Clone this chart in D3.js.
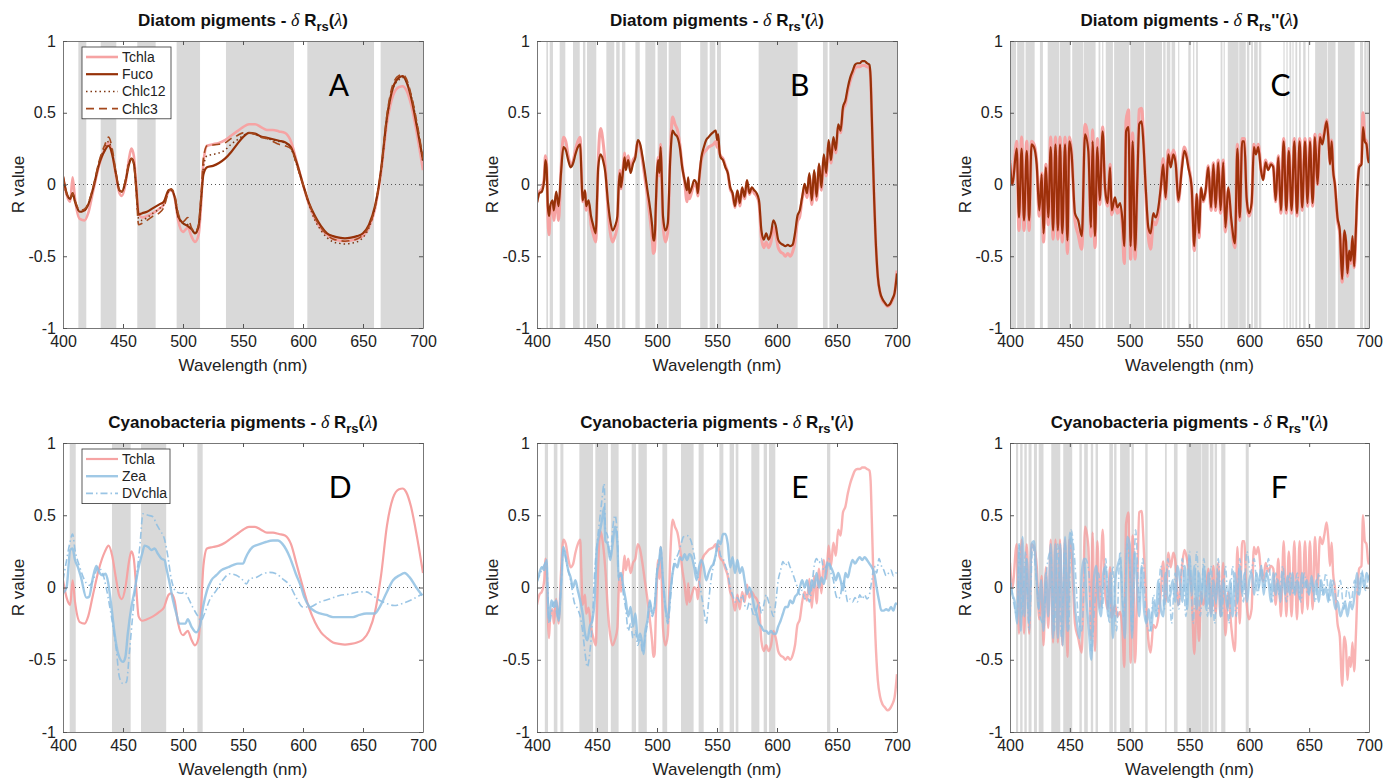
<!DOCTYPE html>
<html><head><meta charset="utf-8">
<script src="https://cdn.jsdelivr.net/npm/d3@7"></script>
<style>body{margin:0;background:#fff;} svg{display:block;font-family:"Liberation Sans",Arial,Helvetica,sans-serif;}</style>
</head><body><svg id="chart" width="1397" height="778"></svg>
<script>
// ---------------- DATA ----------------
const xTicks = [400,450,500,550,600,650,700];
const yTicks = [-1,-0.5,0,0.5,1];
const yTickLabels = ["-1","-0.5","0","0.5","1"];
const panelTitles = ["Diatom pigments","Diatom pigments","Diatom pigments","Cyanobacteria pigments","Cyanobacteria pigments","Cyanobacteria pigments"];
const panelPrimes = ["","'","''","","'","''"];
const panelLetters = ["A","B","C","D","E","F"];
const diatomLegend = ["Tchla","Fuco","Chlc12","Chlc3"];
const cyanoLegend = ["Tchla","Zea","DVchla"];

// Panel A / D (delta Rrs)
const wlA = [400,403,406,408,410,414,418,421,425,430,
435,438,441,444,447,449,452,455,457,459,
461,463,466,470,475,480,484,488,490,493,
496,500,504,507,510,513,515,517,520,525,
530,535,540,545,550,555,560,565,570,575,
580,585,590,595,600,605,610,615,620,625,
630,635,640,645,650,655,660,663,665,670,
675,680,683,686,690,695,700];
const tchlaA = [0.05,-0.07,-0.12,0.05,-0.1,-0.24,-0.25,-0.2,-0.05,0.13,
0.25,0.29,0.22,0.07,-0.06,-0.08,0,0.18,0.25,0.2,
0,-0.2,-0.23,-0.22,-0.2,-0.17,-0.14,-0.05,-0.04,-0.09,
-0.25,-0.33,-0.3,-0.36,-0.4,-0.35,-0.15,0.15,0.27,0.28,
0.29,0.31,0.34,0.37,0.4,0.42,0.42,0.4,0.38,0.38,
0.37,0.36,0.3,0.15,0,-0.14,-0.24,-0.31,-0.35,-0.38,
-0.39,-0.395,-0.39,-0.38,-0.36,-0.3,-0.17,-0.03,0.08,0.43,
0.62,0.68,0.685,0.66,0.56,0.35,0.1];
const fucoA = [0.06,-0.06,-0.1,-0.06,-0.12,-0.19,-0.18,-0.14,-0.03,0.14,
0.24,0.27,0.21,0.08,-0.04,-0.05,0.02,0.14,0.18,0.15,
-0.02,-0.21,-0.2,-0.19,-0.165,-0.14,-0.12,-0.04,-0.035,-0.085,
-0.22,-0.27,-0.29,-0.31,-0.34,-0.29,-0.11,0.07,0.12,0.13,
0.15,0.18,0.225,0.28,0.33,0.36,0.355,0.335,0.325,0.315,
0.305,0.295,0.26,0.145,0,-0.13,-0.22,-0.29,-0.34,-0.36,
-0.37,-0.375,-0.37,-0.36,-0.34,-0.28,-0.15,-0.02,0.1,0.47,
0.675,0.745,0.755,0.72,0.61,0.4,0.17];
const chlc12A = [0.06,-0.07,-0.1,-0.07,-0.12,-0.19,-0.18,-0.14,-0.03,0.15,
0.26,0.3,0.22,0.08,-0.04,-0.05,0.02,0.15,0.18,0.15,
-0.03,-0.24,-0.25,-0.23,-0.2,-0.17,-0.14,-0.05,-0.04,-0.09,
-0.23,-0.27,-0.28,-0.31,-0.34,-0.3,-0.12,0.12,0.2,0.21,
0.22,0.24,0.28,0.31,0.34,0.36,0.35,0.33,0.32,0.31,
0.3,0.29,0.25,0.13,0,-0.14,-0.25,-0.32,-0.37,-0.4,
-0.41,-0.415,-0.41,-0.4,-0.37,-0.3,-0.16,-0.02,0.09,0.46,
0.67,0.73,0.745,0.72,0.62,0.42,0.15];
const chlc3A = [0.06,-0.06,-0.1,-0.06,-0.11,-0.18,-0.17,-0.13,-0.02,0.16,
0.28,0.33,0.25,0.09,-0.04,-0.05,0.03,0.15,0.18,0.14,
-0.05,-0.28,-0.27,-0.25,-0.22,-0.2,-0.16,-0.05,-0.03,-0.07,
-0.2,-0.26,-0.23,-0.3,-0.33,-0.28,-0.08,0.18,0.27,0.275,
0.28,0.29,0.32,0.34,0.36,0.36,0.35,0.33,0.32,0.3,
0.28,0.27,0.25,0.13,0,-0.13,-0.23,-0.3,-0.35,-0.38,
-0.39,-0.395,-0.39,-0.38,-0.35,-0.29,-0.16,-0.02,0.1,0.49,
0.7,0.76,0.765,0.74,0.63,0.43,0.18];
const wlZeaD = [400,403,406,408,410,412.5,415,419.5,421.7,425,427.8,430.5,433,435.5,437.5,440,443,446,450,452,
454,457,459.7,462.5,466,468,471,473.6,476.4,479,482,484.7,486,489,491.7,494.4,497,500,502,504,
507,511,514,516.7,520,523.6,527.8,532,537.5,541.7,545.8,550,552,554,558,564,569,575,579,583,
589,594,598.6,601,605.5,611,619.4,625,633,641.7,647,652.8,659.7,663.9,669.4,675,680.6,684.7,688.9,694.4,699.4];
const zeaD = [-0.04,0,0.26,0.27,0.19,0.14,0.07,-0.07,-0.065,0.07,0.15,0.1,0.085,0.095,0.04,-0.11,-0.32,-0.46,-0.515,-0.48,
-0.32,-0.135,-0.02,0.12,0.235,0.29,0.28,0.26,0.27,0.235,0.2,0.19,0.14,0.025,-0.09,-0.18,-0.25,-0.25,-0.25,-0.22,
-0.27,-0.31,-0.27,-0.135,-0.02,0.05,0.085,0.12,0.14,0.155,0.165,0.165,0.2,0.235,0.28,0.3,0.315,0.325,0.325,0.3,
0.21,0.095,0,-0.065,-0.135,-0.17,-0.19,-0.205,-0.205,-0.205,-0.19,-0.18,-0.18,-0.135,-0.04,0.05,0.085,0.1,0.07,0,-0.055];
const wlDvD = [400,403,405.5,408,410,414,418,422,426,429,433,436,439,441.7,444.4,447,450,452.8,455.5,458,
461,464,466.7,471,475,477.8,480.5,484.7,487.5,490,494.4,498.6,501.4,504,508,512.5,515,518,522,527.8,
533,539,544.4,550,552.8,555.6,561,566.7,572,577.8,583,589,594,600,605.5,614,622,630.5,639,647,
652.8,658,664,669.4,676,683,691.7,699.4];
const dvD = [0.05,0.19,0.3,0.37,0.26,0.14,0.05,0.015,0.07,0.14,0.1,0,-0.135,-0.27,-0.43,-0.62,-0.665,-0.655,-0.435,-0.2,
0.05,0.28,0.51,0.5,0.49,0.44,0.4,0.33,0.21,0.07,-0.03,-0.04,-0.03,-0.065,-0.135,-0.2,-0.23,-0.18,-0.09,-0.02,
0.05,0.095,0.085,0.05,0.025,0.06,0.07,0.095,0.105,0.095,0.06,0.015,-0.065,-0.135,-0.135,-0.1,-0.08,-0.055,-0.045,-0.03,
-0.03,-0.055,-0.09,-0.11,-0.125,-0.11,-0.08,-0.045];

// Panel B / E (first derivative)
const wlB = [400,402,404,406,407,408,409,410,411,413,
414,416,418,420,422,424,426,428,430,432,
434,436,437,438,440,441,443,445,447,449,
450,451,453,455,457,459,461,463,465,467,
468,469,470,472,473,474,476,478,480,482,
484,486,488,490,492,494,496,497,498,499,
500,501,502,503,504,505,507,509,511,513,
515,517,519,521,523,525,526,527,529,531,
533,534,535,537,539,541,543,545,547,549,
550,551,552,553,555,557,559,561,563,565,
567,569,571,573,575,577,579,581,583,585,
587,589,591,593,595,597,599,601,603,605,
607,609,611,613,615,617,619,621,623,625,
627,629,631,633,635,637,639,641,643,645,
647,649,651,653,655,657,659,661,663,665,
667,669,671,673,675,677,678,679,680,681,
682,684,686,688,690,692,694,696,698,700];
const fucoB = [-0.13,-0.06,-0.05,0.03,0.17,0.12,-0.15,-0.22,-0.15,-0.11,
-0.18,-0.05,-0.15,0.08,0.26,0.24,0.17,0.12,0.145,0.21,
0.26,0.28,0.08,-0.11,-0.04,-0.15,-0.11,-0.22,-0.29,-0.34,
-0.11,0.12,0.21,0.17,0.08,-0.11,-0.25,-0.32,-0.29,-0.22,
-0.02,0.08,-0.02,0.12,0.19,0.1,0.17,0.08,0.145,0.19,
0.31,0.28,0.19,0.08,-0.04,-0.15,-0.29,-0.39,-0.39,-0.15,
0.08,0.17,0.08,0.26,0.05,-0.22,-0.32,-0.27,0.17,0.375,
0.35,0.33,0.26,0.12,0.03,-0.04,0.05,-0.06,-0.02,0.03,
0.005,-0.06,0.03,0.19,0.26,0.31,0.33,0.35,0.365,0.375,
0.31,0.35,0.24,0.19,0.17,0.12,0.08,-0.02,-0.06,-0.15,
-0.04,-0.13,-0.02,-0.085,0.03,-0.06,-0.02,-0.04,-0.06,-0.11,
-0.32,-0.385,-0.34,-0.385,-0.34,-0.25,-0.29,-0.385,-0.41,-0.42,
-0.43,-0.42,-0.43,-0.42,-0.34,-0.22,-0.18,-0.085,0.005,-0.06,
0.08,-0.11,0.1,-0.085,0.145,-0.02,0.21,0.08,0.31,0.17,
0.33,0.24,0.42,0.375,0.54,0.585,0.675,0.745,0.79,0.835,
0.845,0.845,0.86,0.86,0.845,0.835,0.745,0.47,0.17,-0.11,
-0.34,-0.64,-0.755,-0.8,-0.825,-0.845,-0.835,-0.8,-0.755,-0.62];
const tchlaB = [-0.12,-0.05,-0.03,0.05,0.2,0.15,-0.2,-0.35,-0.2,-0.15,
-0.25,-0.08,-0.25,0.1,0.33,0.3,0.2,0.14,0.16,0.24,
0.3,0.33,0.1,-0.12,-0.05,-0.18,-0.14,-0.28,-0.35,-0.4,
-0.15,0.15,0.39,0.3,0.12,-0.15,-0.33,-0.4,-0.36,-0.28,
-0.04,0.1,-0.03,0.14,0.22,0.12,0.2,0.1,0.17,0.2,
0.3,0.26,0.16,0.04,-0.08,-0.22,-0.38,-0.48,-0.46,-0.2,
0.06,0.19,0.06,0.28,0.03,-0.28,-0.4,-0.33,0.2,0.47,
0.42,0.38,0.28,0.13,0.02,-0.12,0.03,-0.1,-0.05,0,
-0.02,-0.08,0.02,0.17,0.22,0.24,0.26,0.27,0.28,0.3,
0.26,0.3,0.22,0.2,0.18,0.13,0.08,-0.03,-0.07,-0.16,
-0.05,-0.15,-0.03,-0.1,0.02,-0.07,-0.03,-0.06,-0.08,-0.13,
-0.37,-0.44,-0.4,-0.44,-0.4,-0.3,-0.35,-0.44,-0.47,-0.48,
-0.5,-0.48,-0.5,-0.47,-0.4,-0.26,-0.22,-0.1,-0.03,-0.09,
0.06,-0.14,0.08,-0.11,0.13,-0.04,0.19,0.06,0.29,0.15,
0.31,0.22,0.4,0.36,0.52,0.56,0.65,0.72,0.77,0.81,
0.82,0.82,0.83,0.83,0.82,0.81,0.74,0.47,0.17,-0.11,
-0.34,-0.64,-0.76,-0.81,-0.83,-0.85,-0.84,-0.81,-0.76,-0.6];
const wlZeaE = [400,402,404,406,408,409,410,412,414,416,
418,420,422,424,426,428,430,432,434,436,
438,440,442,444,446,448,450,452,454,456,
457,459,461,463,465,467,468,470,472,474,
476,478,480,482,484,486,488,489,490,492,
494,496,498,500,502,503,505,507,509,511,
513,515,517,519,521,523,525,527,529,531,
533,535,537,539,541,543,545,547,549,551,
553,555,557,559,561,563,565,567,569,571,
573,575,577,579,581,583,585,587,589,591,
593,595,597,599,601,603,605,607,609,611,
613,615,617,619,621,623,625,627,629,631,
633,635,637,639,641,643,645,647,649,651,
653,655,657,659,661,663,665,667,669,671,
673,675,677,679,681,683,685,687,689,691,
693,695,697,699,700];
const zeaE = [0.04,0.1,0.14,0.12,0.19,-0.09,-0.23,-0.09,-0.135,-0.09,
-0.23,0,0.28,0.21,0.12,0.07,0,0.05,-0.02,-0.09,
-0.18,-0.32,-0.365,-0.27,-0.23,-0.09,0.28,0.37,0.46,0.555,
0.325,0.3,0.19,0.3,0.42,0.3,0.07,0.1,0,-0.09,
-0.2,-0.135,-0.27,-0.18,-0.365,-0.32,-0.41,-0.46,-0.32,-0.23,
-0.09,-0.18,-0.135,0.1,0.19,0.28,0.05,-0.135,-0.23,-0.045,
0.1,0.165,0.14,0.21,0.19,0.23,0.19,0.23,0.21,0.14,
0.05,0.14,0.19,0.14,0.05,0.1,0.14,0.165,0.23,0.325,
0.3,0.37,0.37,0.3,0.14,0.21,0.1,0.19,0.1,0.14,
0.05,-0.045,0,-0.045,-0.135,-0.18,-0.25,-0.27,-0.3,-0.3,
-0.32,-0.3,-0.32,-0.32,-0.27,-0.23,-0.18,-0.135,-0.135,-0.09,
-0.11,-0.065,-0.045,0,0.05,0,0.05,-0.045,0.05,0,
0.1,0,0.07,0.025,0.12,0.165,0.14,0.1,0.05,0.1,
0.05,-0.02,0.1,0.07,0.14,0.19,0.165,0.19,0.21,0.19,
0.21,0.19,0.165,0.14,0.1,0,-0.09,-0.16,-0.16,-0.15,
-0.16,-0.135,-0.16,-0.11,-0.12];
const wlDvE = [400,404,408,410,414,418,420,422,425,428,
431,434,436,438,440,442,444,446,448,450,
452,454,456,457,459,461,463,465,467,468,
470,472,474,476,478,480,482,484,486,488,
490,492,494,496,498,500,502,503,505,507,
509,511,513,515,517,520,522,525,528,531,
533,535,537,539,541,543,545,547,549,551,
553,555,557,559,561,563,565,567,569,571,
573,575,577,579,581,583,585,587,589,591,
593,595,597,599,601,603,605,607,609,611,
613,615,617,619,621,623,625,627,629,631,
633,635,637,639,641,643,645,647,649,651,
653,655,657,659,661,663,665,667,669,671,
673,675,677,679,681,683,685,687,689,691,
693,695,697,699,700];
const dvE = [0.04,0.12,0.18,-0.25,-0.1,-0.22,0,0.27,0.15,0.05,
-0.1,-0.15,-0.2,-0.3,-0.45,-0.55,-0.45,-0.25,0.1,0.3,
0.45,0.6,0.72,0.4,0.35,0.2,0.4,0.5,0.35,0.05,
0.1,-0.05,-0.15,-0.3,-0.25,-0.35,-0.3,-0.4,-0.35,-0.45,
-0.35,-0.25,-0.1,-0.2,-0.12,0.12,0.2,0.28,0.05,-0.15,
-0.25,-0.1,0.1,0.2,0.22,0.3,0.35,0.36,0.33,0.22,
0.1,0.05,-0.05,-0.15,-0.25,-0.1,0.05,0.15,0.22,0.3,
0.22,0.2,0.15,0.1,0,-0.05,-0.1,-0.07,-0.1,-0.05,
-0.12,-0.15,-0.1,-0.15,-0.2,-0.15,-0.1,-0.18,-0.12,-0.05,
-0.1,-0.15,-0.2,-0.1,0.05,0.12,0.18,0.15,0.18,0.14,
0.1,0.05,0,-0.05,-0.02,-0.08,-0.05,-0.1,0,0.15,
0.2,0.17,0.2,0.12,0.15,0.2,0.1,0.05,-0.05,-0.08,
-0.05,0.05,-0.02,-0.1,-0.08,-0.1,-0.07,-0.1,-0.05,-0.08,
-0.05,-0.08,-0.05,0.05,0.15,0.1,0.2,0.15,0.12,0.08,
0.1,0.12,0.08,0.1,0.1];

// Panel C / F (second derivative)
const wlC = [400,402,405.6,407.5,409.7,411.7,414,416,418,420,
422.3,424.5,426.5,428,430,432,434,436,438,440,
441.8,443.7,446,448,449.6,451.5,454.3,457,460,462.7,
465.5,467.7,469,471,473,475,477.4,479.4,481.6,483.6,
485,487.7,489.7,492,494,495.5,497,499,500.8,502.5,
504.5,506.4,508,510,511.4,513.4,515.6,517.5,519.8,521.7,
524,526,528,530,532.3,534.3,536.5,538.5,540.7,543.5,
545.7,547.6,549,551.8,554,556,558,559.6,561.5,563.5,
565.7,568,570,571.8,574,576,578.2,580,582.4,585,
588,590,592,594,595.8,597.7,599.7,601.9,603.8,605.5,
607.5,609.7,611.6,613.6,615.8,618,620,622,624.2,626.4,
628.7,630.9,633,635.3,637.6,639.8,642,644.2,646.5,648.7,
650.6,652.9,654.8,657,659,661,662.6,664.6,666,667.4,
668.8,670,671.5,673.7,675.6,677.6,679.3,680.7,682,683.4,
684.8,686.2,687.6,689,690.4,691.8,693.7,695,696.5,697.9,
699.3,700];
const fucoC = [0.15,0,0.25,-0.23,0.25,-0.25,0.235,-0.25,0.28,0.26,
0.14,-0.18,0.07,-0.34,0.12,-0.23,0.26,-0.32,0.28,-0.32,
0.28,-0.34,0.28,-0.39,0.3,0.21,-0.2,-0.25,-0.36,0.35,
0.23,-0.3,0.3,-0.36,0.26,-0.11,0.37,-0.02,-0.13,0.12,
-0.18,-0.09,-0.16,-0.13,-0.25,-0.43,0.37,0.4,-0.43,0.3,
-0.46,0.03,0.42,0.44,0.3,-0.02,-0.3,-0.34,-0.2,-0.23,
-0.16,-0.02,0.14,-0.09,0.21,0.12,0.21,0.14,-0.11,0.1,
0.235,0.19,0.12,-0.02,-0.43,-0.065,-0.34,-0.02,-0.11,-0.04,
0.12,-0.16,0.14,-0.16,0.155,-0.18,0.155,-0.3,-0.02,-0.25,
-0.41,0.25,-0.23,0.3,0.3,-0.09,-0.2,-0.13,0.26,0.21,
0.26,0.1,0.03,0.155,0.1,0.14,0.12,-0.11,0.19,-0.18,
0.3,-0.18,0.235,-0.18,0.3,-0.2,0.3,-0.16,0.3,-0.13,
0.3,-0.13,0.33,0,0.33,0.28,0.35,0.44,0.33,0.14,
0.3,0.1,0,-0.23,-0.32,-0.66,-0.32,-0.39,-0.62,-0.46,
-0.53,-0.36,-0.57,-0.32,-0.02,0.12,0.14,0.4,0.3,0.28,
0.17,0.15];
const tchlaC = [0.17,0,0.3,-0.32,0.33,-0.32,0.3,-0.32,0.3,0.28,
0.15,-0.22,0.08,-0.4,0.14,-0.28,0.33,-0.38,0.33,-0.38,
0.33,-0.4,0.33,-0.48,0.33,0.23,-0.25,-0.35,-0.45,0.42,
0.28,-0.36,0.38,-0.44,0.32,-0.14,0.4,-0.03,-0.15,0.14,
-0.21,-0.12,-0.2,-0.17,-0.3,-0.55,0.44,0.52,-0.52,0.36,
-0.52,0.03,0.52,0.53,0.35,-0.04,-0.36,-0.45,-0.26,-0.28,
-0.2,-0.03,0.18,-0.1,0.24,0.14,0.24,0.16,-0.12,0.12,
0.26,0.21,0.14,-0.03,-0.46,-0.07,-0.37,-0.03,-0.12,-0.05,
0.13,-0.18,0.15,-0.18,0.17,-0.2,0.17,-0.33,-0.03,-0.28,
-0.44,0.28,-0.25,0.32,0.32,-0.1,-0.22,-0.15,0.28,0.23,
0.28,0.11,0.04,0.17,0.11,0.15,0.13,-0.12,0.2,-0.2,
0.32,-0.2,0.25,-0.2,0.32,-0.22,0.32,-0.18,0.32,-0.15,
0.32,-0.15,0.35,0,0.35,0.3,0.36,0.45,0.34,0.15,
0.31,0.1,0,-0.25,-0.34,-0.68,-0.34,-0.4,-0.64,-0.48,
-0.55,-0.38,-0.58,-0.34,-0.02,0.13,0.15,0.5,0.32,0.3,
0.18,0.16];
const wlZeaF = [400,402,404,406,407.5,409,410.5,412,414,416,
418,420,422,424,426,428,430,432,434,436,
438,440,442,444,446,448,450,452,454,456,
458,460,462,464,466,468,470,472,474,476,
478,480,482,484,486,488,490,492,494,496,
498,500,502,504,506,508,510,512,514,516,
518,520,522,524,526,528,530,532,534,536,
538,540,542,544,546,548,550,552,554,556,
558,560,562,564,566,568,570,572,574,576,
578,580,582,584,586,588,590,592,594,596,
598,600,602,604,606,608,610,612,614,616,
618,620,622,624,626,628,630,632,634,636,
638,640,642,644,646,648,650,652,654,656,
658,660,662,664,666,668,670,672,674,676,
678,680,682,684,686,688,690,692,694,696,
698,700];
const zeaF = [0.05,-0.05,-0.1,-0.25,0.3,-0.3,0.35,-0.2,0.2,-0.25,
0.3,0.32,0.1,-0.15,0.05,-0.3,0.1,-0.2,0.3,-0.35,
0.3,-0.35,0.3,-0.4,0.35,-0.3,0.38,0.3,-0.1,-0.25,
-0.35,0.1,0.2,-0.1,-0.3,-0.5,0.05,0.15,-0.1,-0.2,
0.1,0.15,-0.2,0.1,-0.35,0.05,0.15,0.2,-0.1,-0.35,
0.35,0.3,-0.35,0.25,0.05,-0.2,0.15,-0.15,-0.25,-0.15,
-0.3,-0.1,-0.2,0.05,-0.15,-0.2,0.1,-0.1,-0.05,0.05,
-0.1,0.15,0.05,-0.1,0.15,-0.15,0.2,-0.05,0.15,-0.15,
0.1,-0.1,0.15,-0.15,0.1,-0.2,0.05,-0.1,0.1,-0.2,
0.05,-0.05,-0.15,0.05,-0.2,0.1,-0.1,0.15,-0.05,0.1,
-0.1,0.05,0.1,-0.05,0.1,0,0.15,-0.05,0.1,0.05,
-0.1,0.1,-0.05,0.05,-0.1,0.1,-0.05,0.08,-0.05,0.1,
-0.05,0.05,-0.08,0.1,0,0.05,-0.05,0.08,-0.05,0.05,
-0.1,0.05,-0.05,0,-0.1,0.05,-0.05,-0.15,-0.1,-0.2,
-0.15,-0.1,-0.2,-0.1,-0.15,-0.05,0.1,-0.05,0.1,0,
0.1,0.05];
const wlDvF = [400,403,406,408,410,413,416,419,422,425,
428,431,434,437,440,443,446,449,451,454,
457,460,463,466,468,471,474,477,480,483,
486,489,492,495,498,500,502,505,508,511,
514,517,520,523,526,529,532,535,538,541,
544,547,550,553,556,559,562,565,568,571,
574,577,580,583,586,589,592,595,598,601,
604,607,610,613,616,619,622,625,628,631,
634,637,640,643,646,649,652,655,658,661,
664,667,670,673,676,679,682,685,688,691,
694,697,700];
const dvF = [0.1,-0.1,-0.2,0.3,-0.2,0.25,-0.3,0.3,0.05,-0.2,
-0.25,0.15,0.25,-0.3,0.3,-0.35,0.3,-0.3,0.4,0.2,
-0.2,-0.3,0.2,0.1,-0.45,-0.1,0.1,-0.15,0.2,-0.25,
0.15,-0.3,0.25,-0.2,0.3,0.15,-0.3,0.4,-0.1,0.2,
-0.25,-0.3,-0.05,-0.2,0.15,-0.15,0.2,-0.25,0.1,-0.15,
0.2,-0.2,0.25,-0.25,0.25,-0.2,0.2,-0.2,0.15,-0.25,
0.2,-0.2,0.15,-0.25,0.15,-0.2,0.2,-0.1,0.25,0.1,
0.2,-0.05,0.15,0,0.2,-0.1,0.1,-0.05,0.15,-0.1,
0.1,-0.05,0.1,-0.1,0.1,-0.05,0.05,-0.1,0.1,-0.05,
0.1,-0.1,0.05,-0.1,0.05,-0.15,0,-0.1,0.05,-0.05,
0.12,-0.02,0.1];

// Significance bands (nm ranges)
const bandsA = [[412.8,419.4],[431.4,444.4],[461.9,477.2],[494.7,514.2],[535.8,592.5],[603.6,659.2],[664.7,700]];
const bandsB = [[407.8,409.2],[410.6,413.3],[418.9,423.6],[430,435.6],[438.3,440.3],[441.7,449.4],[457.8,464.4],[466,468.9],[470.8,473.6],[482,485.6],[490.3,498.6],[500.5,508.3],[509.7,520],[536,542.2],[543.9,548.6],[550,553.3],[584.7,617.2],[638.3,642.2],[643.6,700]];
const bandsC = [[400.5,405],[406,412],[413,420.6],[425,427.5],[431.5,441],[441.5,450.5],[452,461],[461.5,471.5],[474,475.5],[477,478],[480,486],[487,499.5],[500.5,512],[513,527],[528,530],[531,534],[535,538],[540.5,541.5],[549,551],[553,554],[555.5,557],[576,577.5],[578.5,579.5],[582,591],[591.5,597],[598,600],[601.5,603],[604,607],[608,610],[628.5,629.5],[631,632],[633.5,635],[636,637],[638.5,640],[641.5,643],[645,647],[649,650],[655,665],[665.5,672],[674,688],[692.5,695],[696,698],[698.5,700]];
const bandsD = [[405.6,410.6],[440.8,456.4],[465,486],[512,516.4]];
const bandsE = [[406.5,409.2],[414,417],[419.5,422],[435.3,446.7],[448.6,459.2],[461.5,468],[478.9,482.5],[484.5,491.5],[504.5,508.5],[520,530.5],[534.7,538.9],[552,555.3],[560.5,564.2],[565.6,567.8],[578.6,585.3],[588.9,591.7],[593.3,598.6],[641.7,644.4]];
const bandsF = [[405,406.8],[408.5,410.5],[412,414],[415.5,418],[420,422.5],[424,428],[434.5,442],[444.5,452],[458,460],[462,465],[467.5,469.5],[471.5,473.5],[483,486],[487,489],[492,500],[501.5,503.5],[513,515],[529.5,531],[537,540],[547.5,560],[560.5,566],[567,570],[571,573],[576.5,580],[597,599.5]];

// ---------------- STYLES / LAYOUT ----------------
const C_TCHLA = "#f6a3a3";
const C_FUCO = "#963108";
const C_CHLC12 = "#7e3510";
const C_CHLC3 = "#a4481c";
const C_BLUE = "#8fbfe2";
const layout = { cols: [[63,423],[537,897],[1010,1369]], rows: [[41,328],[443,732]] };

const sTchla = {stroke:C_TCHLA, width:2.6, dash:null, op:1};
const sFuco = {stroke:C_FUCO, width:2.2, dash:null, op:1};
const sChlc12 = {stroke:C_CHLC12, width:1.5, dash:"1.5,3", op:1};
const sChlc3 = {stroke:C_CHLC3, width:1.6, dash:"8,5", op:1};
const sTchlaC = {stroke:"#f79a9a", width:2.4, dash:null, op:0.75};
const sZea = {stroke:C_BLUE, width:2.4, dash:null, op:0.85};
const sDv = {stroke:C_BLUE, width:1.6, dash:"7,3,1.5,3", op:0.9};

const panels = [
  {id:0,col:0,row:0,bands:bandsA,series:[[wlA,tchlaA,sTchla],[wlA,fucoA,sFuco],[wlA,chlc12A,sChlc12],[wlA,chlc3A,sChlc3]],legend:[diatomLegend,[sTchla,sFuco,sChlc12,sChlc3]], letterX:630},
  {id:1,col:1,row:0,bands:bandsB,series:[[wlB,tchlaB,{...sTchla,width:3}],[wlB,fucoB,sFuco]], letterX:619},
  {id:2,col:2,row:0,bands:bandsC,series:[[wlC,tchlaC,{...sTchla,width:3.2}],[wlC,fucoC,{...sFuco,stroke:"#9e300a"}]], letterX:626},
  {id:3,col:0,row:1,bands:bandsD,series:[[wlA,tchlaA,{...sTchla,width:2.2}],[wlZeaD,zeaD,sZea],[wlDvD,dvD,sDv]],legend:[cyanoLegend,[{...sTchla,width:2.2},sZea,sDv]], letterX:631},
  {id:4,col:1,row:1,bands:bandsE,series:[[wlB,tchlaB,sTchlaC],[wlZeaE,zeaE,sZea],[wlDvE,dvE,sDv]], letterX:619},
  {id:5,col:2,row:1,bands:bandsF,series:[[wlC,tchlaC,sTchlaC],[wlZeaF,zeaF,{...sZea,op:0.75}],[wlDvF,dvF,{...sDv,op:0.75}]], letterX:625}
];

const svg = d3.select("#chart");
svg.append("rect").attr("width",1397).attr("height",778).attr("fill","#fff");

function drawPanel(p){
  const [l,r] = layout.cols[p.col];
  const [t,b] = layout.rows[p.row];
  const x = d3.scaleLinear().domain([400,700]).range([l,r]);
  const y = d3.scaleLinear().domain([-1,1]).range([b,t]);
  const g = svg.append("g");
  const clipId = "clip"+p.id;
  svg.append("clipPath").attr("id",clipId).append("rect").attr("x",l).attr("y",t).attr("width",r-l).attr("height",b-t);

  g.append("g").selectAll("rect").data(p.bands).join("rect")
    .attr("x",d=>x(d[0])).attr("width",d=>Math.max(0.8,x(d[1])-x(d[0])))
    .attr("y",t).attr("height",b-t).attr("fill","#d9d9d9");

  g.append("line").attr("x1",l).attr("x2",r).attr("y1",y(0)).attr("y2",y(0))
    .attr("stroke","#555").attr("stroke-width",1).attr("stroke-dasharray","1,3");

  const line = d3.line().x(d=>x(d[0])).y(d=>y(d[1])).curve(d3.curveMonotoneX);
  const lg = g.append("g").attr("clip-path",`url(#${clipId})`);
  p.series.forEach(([wl,v,s])=>{
    lg.append("path").datum(d3.zip(wl,v)).attr("d",line)
      .attr("fill","none").attr("stroke",s.stroke).attr("stroke-width",s.width)
      .attr("stroke-opacity",s.op).attr("stroke-linejoin","round")
      .attr("stroke-dasharray",s.dash);
  });

  // axes
  const styleAxis = sel => {
    sel.select(".domain").attr("stroke","#777").attr("stroke-width",1);
    sel.selectAll(".tick line").attr("stroke","#555");
    sel.selectAll(".tick text").attr("fill","#222").attr("font-size",16).attr("font-family","Liberation Sans, Arial, sans-serif");
  };
  g.append("g").attr("transform",`translate(0,${b})`)
    .call(d3.axisBottom(x).tickValues(xTicks).tickSize(-4).tickSizeOuter(0).tickPadding(8).tickFormat(d3.format("d"))).call(styleAxis);
  g.append("g").attr("transform",`translate(0,${t})`)
    .call(d3.axisTop(x).tickValues(xTicks).tickSize(-4).tickSizeOuter(0).tickFormat("")).call(styleAxis);
  g.append("g").attr("transform",`translate(${l},0)`)
    .call(d3.axisLeft(y).tickValues(yTicks).tickSize(-4).tickSizeOuter(0).tickPadding(7).tickFormat((d,i)=>yTickLabels[i])).call(styleAxis);
  g.append("g").attr("transform",`translate(${r},0)`)
    .call(d3.axisRight(y).tickValues(yTicks).tickSize(-4).tickSizeOuter(0).tickFormat("")).call(styleAxis);

  // title
  const tt = g.append("text").attr("x",(l+r)/2).attr("y",t-15).attr("text-anchor","middle")
    .attr("font-size",17).attr("font-weight","bold").attr("fill","#111");
  tt.append("tspan").text(panelTitles[p.id]+" - ");
  tt.append("tspan").attr("font-family","Liberation Serif, serif").attr("font-style","italic").attr("font-weight","normal").attr("font-size",18).text("δ");
  tt.append("tspan").text(" R");
  tt.append("tspan").attr("font-size",13).attr("dy",5).text("rs");
  tt.append("tspan").attr("dy",-5).text(panelPrimes[p.id]+"(");
  tt.append("tspan").attr("font-family","Liberation Serif, serif").attr("font-style","italic").attr("font-weight","normal").attr("font-size",18).text("λ");
  tt.append("tspan").text(")");

  // axis labels
  g.append("text").attr("x",(l+r)/2).attr("y",b+43).attr("text-anchor","middle")
    .attr("font-size",17).attr("fill","#222").text("Wavelength (nm)");
  g.append("text").attr("transform",`translate(${l-39},${(t+b)/2}) rotate(-90)`).attr("text-anchor","middle")
    .attr("font-size",17).attr("fill","#222").text("R value");

  // panel letter
  g.append("text").attr("x",x(p.letterX)).attr("y",y(0.62)).attr("text-anchor","middle")
    .attr("font-family","Lato, 'Open Sans', sans-serif").attr("font-size",30).attr("fill","#000").text(panelLetters[p.id]);

  // legend
  if(p.legend){
    const [names,styles] = p.legend;
    const lx = l+19, ly = t+6, rowH = 17.2;
    const w = p.id===0 ? 89 : 88;
    const lgd = g.append("g");
    lgd.append("rect").attr("x",lx).attr("y",ly).attr("width",w).attr("height",names.length*rowH+3)
      .attr("fill","#fff").attr("stroke","#333").attr("stroke-width",0.8);
    names.forEach((n,i)=>{
      const yy = ly + 10 + i*rowH;
      const s = styles[i];
      lgd.append("line").attr("x1",lx+4).attr("x2",lx+36).attr("y1",yy).attr("y2",yy)
        .attr("stroke",s.stroke).attr("stroke-width",s.width).attr("stroke-opacity",s.op).attr("stroke-dasharray",s.dash);
      lgd.append("text").attr("x",lx+40).attr("y",yy+5).attr("font-size",14).attr("fill","#222").text(n);
    });
  }
}
panels.forEach(drawPanel);
</script>
</body></html>
